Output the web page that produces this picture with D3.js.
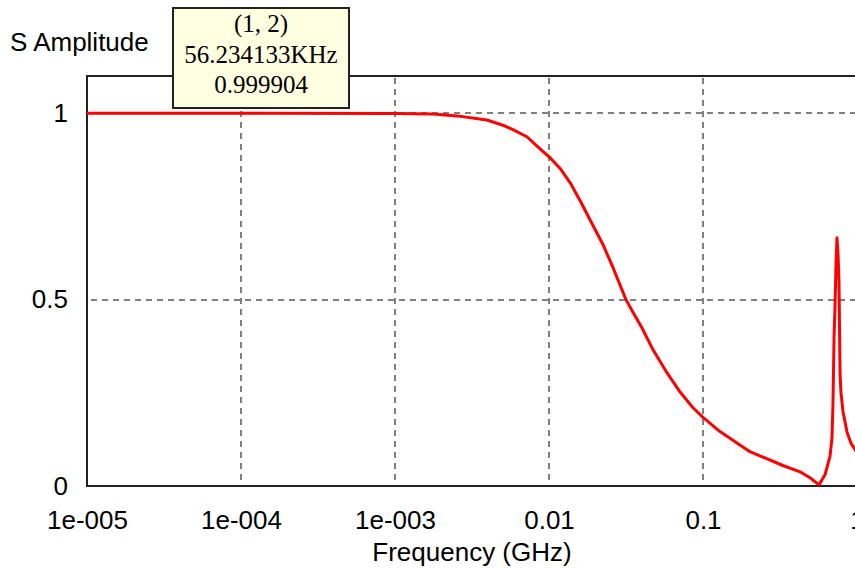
<!DOCTYPE html>
<html>
<head>
<meta charset="utf-8">
<script src="https://cdn.jsdelivr.net/npm/d3@7"></script>
<style>
  body { margin: 0; background: #fff; }
  svg { display: block; }
  text { fill: #000; }
</style>
</head>
<body>
<div id="chart"></div>
<script>
// S(1,2) amplitude
var freqGHz = [1e-5, 1e-4, 1e-3, 1.77e-3, 2.53e-3, 3.95e-3, 5.02e-3, 5.83e-3, 7.19e-3, 8.36e-3,
  0.0101, 0.0118, 0.0137, 0.0159, 0.0193, 0.0224, 0.0261, 0.0316, 0.0351, 0.0402,
  0.0473, 0.0583, 0.0710, 0.0861, 0.1, 0.1288, 0.1496, 0.2018, 0.3304, 0.4266,
  0.4955, 0.5668, 0.6196, 0.6683, 0.688, 0.6982, 0.7096, 0.7198, 0.7311, 0.7413,
  0.7534, 0.7638, 0.7762, 0.787, 0.811, 0.861, 0.914, 0.97, 1.0];
var sAmp = [1.0, 1.0, 0.9995, 0.998, 0.993, 0.982, 0.968, 0.956, 0.937, 0.912,
  0.882, 0.852, 0.814, 0.766, 0.699, 0.648, 0.585, 0.5, 0.466, 0.424,
  0.366, 0.304, 0.252, 0.21, 0.184, 0.146, 0.128, 0.092, 0.055, 0.038,
  0.022, 0.003, 0.03, 0.08, 0.13, 0.22, 0.4, 0.48, 0.6, 0.666,
  0.62, 0.55, 0.3, 0.25, 0.2, 0.145, 0.115, 0.098, 0.09];

var xTickValues = [1e-5, 1e-4, 1e-3, 0.01, 0.1, 1];
var xTickLabels = ["1e-005", "1e-004", "1e-003", "0.01", "0.1", "1"];
var yTickValues = [0, 0.5, 1];
var yTickLabels = ["0", "0.5", "1"];

var tipLines = ["(1, 2)", "56.234133KHz", "0.999904"];

var W = 855, H = 568;
var margin = {top: 76, left: 87, bottom: 82};
var plotRight = 857;
var sans = "'Liberation Sans', Arial, sans-serif";
var serif = "'Liberation Serif', 'Times New Roman', serif";

var svg = d3.select("#chart").append("svg")
  .attr("width", W).attr("height", H);

var x = d3.scaleLog().domain([1e-5, 1]).range([margin.left, plotRight]);
var y = d3.scaleLinear().domain([0, 1.1]).range([H - margin.bottom, margin.top]);

// grid
var grid = svg.append("g");
grid.selectAll("line.vg")
  .data(xTickValues.slice(1))
  .enter().append("line")
  .attr("x1", function(d) { return Math.round(x(d)); })
  .attr("x2", function(d) { return Math.round(x(d)); })
  .attr("y1", y(0) - 6).attr("y2", margin.top)
  .attr("stroke", "#808080").attr("stroke-width", 2)
  .attr("stroke-dasharray", "6,5");
grid.selectAll("line.hg")
  .data(yTickValues.slice(1))
  .enter().append("line")
  .attr("x1", margin.left + 4).attr("x2", W)
  .attr("y1", function(d) { return Math.round(y(d)); })
  .attr("y2", function(d) { return Math.round(y(d)); })
  .attr("stroke", "#808080").attr("stroke-width", 2)
  .attr("stroke-dasharray", "6,5");

// frame (left, bottom, top)
svg.append("path")
  .attr("d", "M" + W + "," + margin.top + "H" + margin.left + "V" + y(0) + "H" + W)
  .attr("fill", "none").attr("stroke", "#222").attr("stroke-width", 2);

// axes labels via d3 axes
var xAxis = d3.axisBottom(x)
  .tickValues(xTickValues)
  .tickFormat(function(d, i) { return xTickLabels[i]; })
  .tickSize(0).tickPadding(25);
var gx = svg.append("g")
  .attr("transform", "translate(0," + y(0) + ")")
  .call(xAxis);
gx.select(".domain").remove();
gx.selectAll("text").style("font-size", "26px").style("font-family", sans).attr("fill", "#000");

var yAxis = d3.axisLeft(y)
  .tickValues(yTickValues)
  .tickFormat(function(d, i) { return yTickLabels[i]; })
  .tickSize(0).tickPadding(19);
var gy = svg.append("g")
  .attr("transform", "translate(" + margin.left + ",0)")
  .call(yAxis);
gy.select(".domain").remove();
gy.selectAll("text").style("font-size", "26px").style("font-family", sans).attr("fill", "#000");

// curve
svg.append("clipPath").attr("id", "clip")
  .append("rect").attr("x", margin.left).attr("y", 0)
  .attr("width", W - margin.left).attr("height", y(0) + 2);

var line = d3.line()
  .x(function(d, i) { return x(freqGHz[i]); })
  .y(function(d) { return y(d); });

svg.append("path")
  .datum(sAmp)
  .attr("clip-path", "url(#clip)")
  .attr("d", line)
  .attr("fill", "none")
  .attr("stroke", "#ff0000")
  .attr("stroke-width", 3)
  .attr("stroke-linejoin", "round");

// titles
svg.append("text")
  .attr("x", 10).attr("y", 51)
  .style("font-size", "26px").style("font-family", sans)
  .text("S Amplitude");

svg.append("text")
  .attr("x", 472).attr("y", 561)
  .attr("text-anchor", "middle")
  .style("font-size", "26px").style("font-family", sans)
  .text("Frequency (GHz)");

// hover tip box
var tip = svg.append("g");
tip.append("rect")
  .attr("x", 173).attr("y", 8)
  .attr("width", 176).attr("height", 100)
  .attr("fill", "#ffffe1")
  .attr("stroke", "#222").attr("stroke-width", 2);
tip.selectAll("text")
  .data(tipLines)
  .enter().append("text")
  .attr("x", 261)
  .attr("y", function(d, i) { return 32 + i * 30.5; })
  .attr("text-anchor", "middle")
  .style("font-family", serif)
  .style("font-size", "25px")
  .text(function(d) { return d; });
</script>
</body>
</html>
